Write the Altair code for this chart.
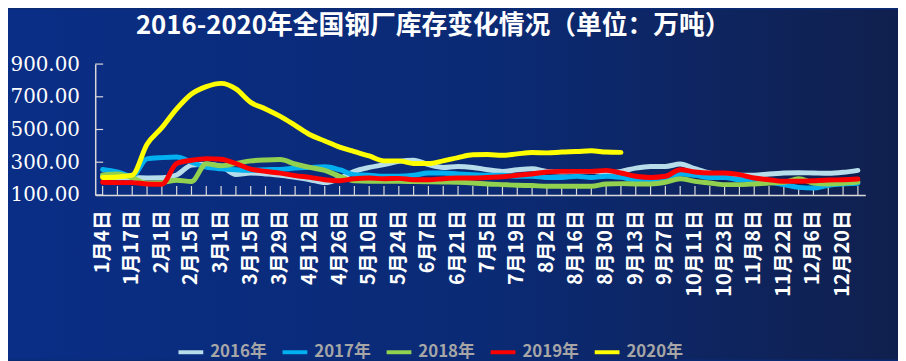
import altair as alt
import pandas as pd

# ---------------- data ----------------
dates = ["1月4日", "1月10日", "1月17日", "1月24日", "2月1日", "2月8日", "2月15日", "2月22日",
         "3月1日", "3月8日", "3月15日", "3月22日", "3月29日", "4月5日", "4月12日", "4月19日",
         "4月26日", "5月3日", "5月10日", "5月17日", "5月24日", "5月31日", "6月7日", "6月14日",
         "6月21日", "6月28日", "7月5日", "7月12日", "7月19日", "7月26日", "8月2日", "8月9日",
         "8月16日", "8月23日", "8月30日", "9月6日", "9月13日", "9月20日", "9月27日", "10月4日",
         "10月11日", "10月17日", "10月23日", "11月1日", "11月8日", "11月15日", "11月22日", "11月29日",
         "12月6日", "12月13日", "12月20日", "12月27日"]

s2016 = [215, 205, 205, 204, 205, 222, 282, 288, 276, 225, 234, 228, 220, 207, 193, 175,
         199, 244, 268, 285, 305, 312, 285, 268, 274, 268, 254, 244, 254, 260, 244, 240,
         244, 244, 234, 244, 264, 274, 274, 289, 260, 234, 224, 220, 220, 228, 234, 236,
         234, 232, 238, 250]
s2017 = [255, 240, 215, 320, 328, 332, 300, 270, 260, 254, 250, 254, 256, 264, 268, 272,
         254, 224, 220, 214, 214, 220, 234, 234, 228, 224, 220, 220, 214, 214, 207, 207,
         214, 207, 214, 207, 193, 193, 203, 228, 220, 207, 207, 193, 193, 179, 163, 146,
         142, 159, 167, 171]
s2018 = [222, 228, 205, 172, 175, 190, 182, 290, 278, 292, 308, 314, 316, 289, 268, 250,
         214, 186, 183, 183, 183, 182, 181, 179, 177, 173, 167, 163, 159, 157, 153, 153,
         153, 153, 167, 169, 167, 167, 177, 199, 183, 173, 163, 163, 167, 173, 177, 199,
         173, 167, 171, 179]
s2019 = [177, 175, 175, 167, 165, 292, 312, 322, 318, 292, 258, 244, 233, 218, 207, 193,
         187, 199, 203, 199, 201, 193, 193, 199, 203, 203, 207, 211, 220, 228, 240, 244,
         244, 244, 250, 234, 214, 207, 214, 254, 240, 234, 234, 224, 203, 193, 183, 183,
         187, 191, 193, 197]
s2020 = [207, 210, 221, 410, 511, 626, 717, 762, 782, 748, 666, 626, 580, 525, 468, 430,
         392, 365, 338, 308, 308, 292, 292, 308, 328, 345, 347, 342, 351, 359, 357, 362,
         365, 370, 362, 360]

years = ["2016年", "2017年", "2018年", "2019年", "2020年"]
colors = ["#B7DDEB", "#00B0F0", "#92D050", "#FF0000", "#FFFF00"]
y_ticks = [100, 300, 500, 700, 900]
label_dates = dates[::2]
title_text = "2016-2020年全国钢厂库存变化情况（单位：万吨）"

rows = []
for yr, vals in zip(years, [s2016, s2017, s2018, s2019, s2020]):
    for i, v in enumerate(vals):
        rows.append({"date": dates[i], "idx": i, "value": v, "year": yr})
df = pd.DataFrame(rows)
df_dates = pd.DataFrame({"date": dates})
df_yt = pd.DataFrame({"value": y_ticks})

W, H = 777, 132
PL, PT, PR, PB = 88, 55, 33, 166
AXC = "#D9D9D9"

xscale = alt.Scale(domain=dates, padding=0)
yscale = alt.Scale(domain=[100, 900], zero=False, nice=False)

x_axis = alt.Axis(values=label_dates, labelAngle=270, labelColor="white",
                  labelFont="Noto Sans CJK SC", labelFontSize=20, labelFontWeight="bold",
                  labelPadding=15, ticks=False, domainColor=AXC, domainWidth=1.5,
                  labelOverlap=False, labelFlush=False, grid=False, zindex=2, title=None)
y_axis = alt.Axis(values=y_ticks, format=".2f", labelFont="DejaVu Serif",
                  labelFontSize=20, labelColor="white", labelPadding=16, ticks=False,
                  grid=False, domainColor=AXC, domainWidth=1.5, zindex=2, title=None)

bg = alt.Chart(pd.DataFrame({"a": [0]})).mark_rect(
    fill=alt.Gradient(
        gradient="linear",
        stops=[alt.GradientStop(color="#0A2E86", offset=0),
               alt.GradientStop(color="#0B2A74", offset=0.55),
               alt.GradientStop(color="#10204E", offset=1)],
        x1=0, x2=1, y1=0, y2=0),
).encode(x=alt.value(-PL), x2=alt.value(W + PR), y=alt.value(-PT), y2=alt.value(H + PB))

title = alt.Chart(pd.DataFrame({"t": [title_text]})).mark_text(
    font="Noto Sans CJK SC", fontSize=26, fontWeight="bold", color="white",
    align="center", baseline="middle",
).encode(x=alt.value(341), y=alt.value(-38), text="t:N")

xt = alt.Chart(df_dates).mark_rule(color=AXC, strokeWidth=1.2).encode(
    x=alt.X("date:O", scale=xscale, axis=x_axis),
    y=alt.value(H - 9), y2=alt.value(H),
)
yt = alt.Chart(df_yt).mark_rule(color=AXC, strokeWidth=1.2).encode(
    y=alt.Y("value:Q", scale=yscale, axis=y_axis),
    x=alt.value(0), x2=alt.value(8),
)

lines = alt.Chart(df).mark_line(
    strokeWidth=5, interpolate="monotone", strokeCap="round", strokeJoin="round"
).encode(
    x=alt.X("date:O", scale=xscale, axis=x_axis),
    y=alt.Y("value:Q", scale=yscale, axis=y_axis),
    color=alt.Color("year:N", scale=alt.Scale(domain=years, range=colors),
                    legend=alt.Legend(title=None, orient="none", legendX=82, legendY=276,
                                      direction="horizontal", symbolType="stroke",
                                      symbolStrokeWidth=4, symbolSize=625,
                                      labelColor="#A6A6A6", labelFont="Noto Sans CJK SC",
                                      labelFontSize=17, labelFontWeight="bold",
                                      labelOffset=5, columnPadding=7, zindex=2)),
    order=alt.Order("idx:Q"),
    detail="year:N",
)

chart = alt.layer(bg, title, xt, yt, lines).properties(
    width=W, height=H,
    padding={"left": PL, "top": PT, "right": PR, "bottom": PB},
    autosize=alt.AutoSizeParams(type="none"),
    background="#0B2A74",
).configure_view(stroke=None)

chart.save("out.html", embed_options={"renderer": "svg", "actions": False})
